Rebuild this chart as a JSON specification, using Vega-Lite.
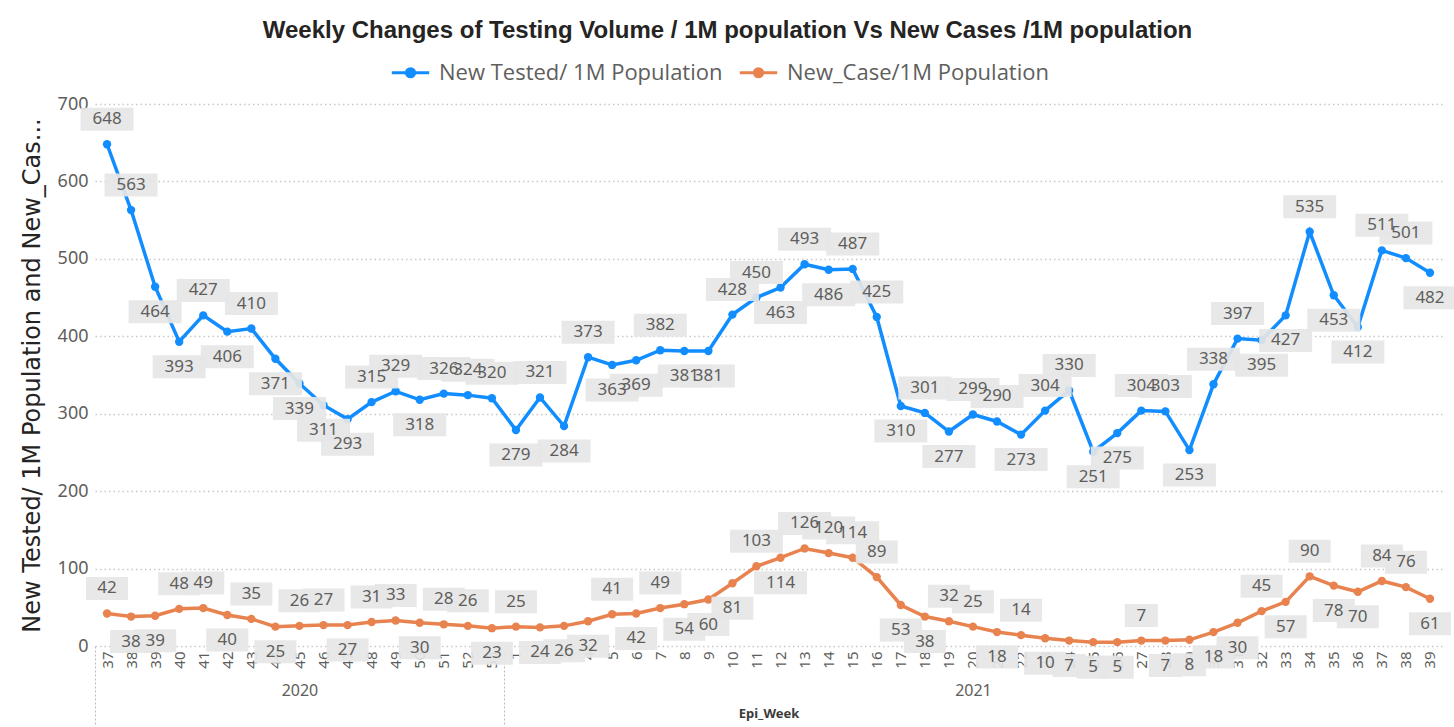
{
  "$schema": "https://vega.github.io/schema/vega-lite/v6.json",
  "autosize": {"type": "none"},
  "padding": {"left": 95, "top": 104, "right": 12, "bottom": 81},
  "width": 1347,
  "height": 542,
  "background": "white",
  "config": {"view": {"stroke": null}},
  "title": {
    "text": "Weekly Changes of Testing Volume / 1M population Vs New Cases /1M population",
    "font": "Liberation Sans",
    "fontSize": 24,
    "fontWeight": "bold",
    "color": "#252423",
    "anchor": "middle",
    "frame": "group",
    "dx": -41,
    "offset": 9
  },
  "data": {
    "values": [
      {"wk": "2020-37", "tested": 648, "cases": 42},
      {"wk": "2020-38", "tested": 563, "cases": 38},
      {"wk": "2020-39", "tested": 464, "cases": 39},
      {"wk": "2020-40", "tested": 393, "cases": 48},
      {"wk": "2020-41", "tested": 427, "cases": 49},
      {"wk": "2020-42", "tested": 406, "cases": 40},
      {"wk": "2020-43", "tested": 410, "cases": 35},
      {"wk": "2020-44", "tested": 371, "cases": 25},
      {"wk": "2020-45", "tested": 339, "cases": 26},
      {"wk": "2020-46", "tested": 311, "cases": 27},
      {"wk": "2020-47", "tested": 293, "cases": 27},
      {"wk": "2020-48", "tested": 315, "cases": 31},
      {"wk": "2020-49", "tested": 329, "cases": 33},
      {"wk": "2020-50", "tested": 318, "cases": 30},
      {"wk": "2020-51", "tested": 326, "cases": 28},
      {"wk": "2020-52", "tested": 324, "cases": 26},
      {"wk": "2020-53", "tested": 320, "cases": 23},
      {"wk": "2021-01", "tested": 279, "cases": 25},
      {"wk": "2021-02", "tested": 321, "cases": 24},
      {"wk": "2021-03", "tested": 284, "cases": 26},
      {"wk": "2021-04", "tested": 373, "cases": 32},
      {"wk": "2021-05", "tested": 363, "cases": 41},
      {"wk": "2021-06", "tested": 369, "cases": 42},
      {"wk": "2021-07", "tested": 382, "cases": 49},
      {"wk": "2021-08", "tested": 381, "cases": 54},
      {"wk": "2021-09", "tested": 381, "cases": 60},
      {"wk": "2021-10", "tested": 428, "cases": 81},
      {"wk": "2021-11", "tested": 450, "cases": 103},
      {"wk": "2021-12", "tested": 463, "cases": 114},
      {"wk": "2021-13", "tested": 493, "cases": 126},
      {"wk": "2021-14", "tested": 486, "cases": 120},
      {"wk": "2021-15", "tested": 487, "cases": 114},
      {"wk": "2021-16", "tested": 425, "cases": 89},
      {"wk": "2021-17", "tested": 310, "cases": 53},
      {"wk": "2021-18", "tested": 301, "cases": 38},
      {"wk": "2021-19", "tested": 277, "cases": 32},
      {"wk": "2021-20", "tested": 299, "cases": 25},
      {"wk": "2021-21", "tested": 290, "cases": 18},
      {"wk": "2021-22", "tested": 273, "cases": 14},
      {"wk": "2021-23", "tested": 304, "cases": 10},
      {"wk": "2021-24", "tested": 330, "cases": 7},
      {"wk": "2021-25", "tested": 251, "cases": 5},
      {"wk": "2021-26", "tested": 275, "cases": 5},
      {"wk": "2021-27", "tested": 304, "cases": 7},
      {"wk": "2021-28", "tested": 303, "cases": 7},
      {"wk": "2021-29", "tested": 253, "cases": 8},
      {"wk": "2021-30", "tested": 338, "cases": 18},
      {"wk": "2021-31", "tested": 397, "cases": 30},
      {"wk": "2021-32", "tested": 395, "cases": 45},
      {"wk": "2021-33", "tested": 427, "cases": 57},
      {"wk": "2021-34", "tested": 535, "cases": 90},
      {"wk": "2021-35", "tested": 453, "cases": 78},
      {"wk": "2021-36", "tested": 412, "cases": 70},
      {"wk": "2021-37", "tested": 511, "cases": 84},
      {"wk": "2021-38", "tested": 501, "cases": 76},
      {"wk": "2021-39", "tested": 482, "cases": 61}
    ]
  },
  "transform": [
    {"fold": ["tested", "cases"], "as": ["series", "value"]},
    {
      "window": [
        {"op": "lag", "field": "value", "as": "prev"},
        {"op": "lead", "field": "value", "as": "next"}
      ],
      "groupby": ["series"],
      "sort": [{"field": "wk", "order": "ascending"}]
    }
  ],
  "encoding": {
    "x": {"field": "wk", "type": "ordinal", "sort": "ascending", "scale": {"type": "point", "padding": 0.5}, "axis": null},
    "y": {
      "field": "value",
      "type": "quantitative",
      "scale": {"domain": [0, 700], "nice": false},
      "axis": {
        "values": [0, 100, 200, 300, 400, 500, 600, 700],
        "title": "New Tested/ 1M Population and New_Cas...",
        "titleFont": "DejaVu Sans",
        "titleFontSize": 24,
        "titleFontWeight": "normal",
        "titleColor": "#252423",
        "titlePadding": 13,
        "labelFont": "Noto Sans",
        "labelFontSize": 18,
        "labelColor": "#605E5C",
        "labelPadding": 7,
        "domain": false,
        "ticks": false,
        "grid": true,
        "gridDash": [1.5, 3],
        "gridColor": "#c8c8c8",
        "gridWidth": 1.5
      }
    }
  },
  "layer": [
    {
      "mark": {"type": "line", "strokeWidth": 3.5},
      "encoding": {
        "x": {
          "field": "wk", "type": "ordinal", "sort": "ascending", "scale": {"type": "point", "padding": 0.5},
          "axis": {
            "orient": "bottom",
            "title": null,
            "labelExpr": "'' + toNumber(split(datum.value, '-')[1])",
            "labelAngle": -90,
            "labelFont": "Noto Sans",
            "labelFontSize": 15,
            "labelColor": "#605E5C",
            "labelPadding": 5,
            "ticks": false,
            "domain": false,
            "grid": false,
            "labelOverlap": false
          }
        },
        "color": {
          "field": "series",
          "type": "nominal",
          "scale": {"domain": ["tested", "cases"], "range": ["#118DFF", "#E8834F"]},
          "legend": {
            "orient": "none",
            "legendX": 295,
            "legendY": -52,
            "direction": "horizontal",
            "title": null,
            "labelExpr": "datum.value == 'tested' ? 'New Tested/ 1M Population' : 'New_Case/1M Population'",
            "labelFont": "Open Sans",
            "labelFontSize": 22,
            "labelColor": "#605E5C",
            "labelLimit": 400,
            "symbolType": "M-1,0H1M-0.22,0a0.22,0.22 0 1,0 0.44,0a0.22,0.22 0 1,0 -0.44,0",
            "symbolSize": 1400,
            "symbolStrokeWidth": 3,
            "labelOffset": 8,
            "columnPadding": 10,
            "padding": 0,
            "encode": {"symbols": {"update": {"fill": {"scale": "color", "field": "value"}, "stroke": {"scale": "color", "field": "value"}}}}
          }
        }
      }
    },
    {
      "mark": {"type": "point", "filled": true, "size": 70, "opacity": 1},
      "encoding": {
        "x": {
          "field": "wk", "type": "ordinal", "sort": "ascending", "scale": {"type": "point", "padding": 0.5},
          "axis": {
            "orient": "bottom",
            "title": "Epi_Week",
            "titleFont": "Noto Sans",
            "titleFontSize": 13,
            "titleFontWeight": "bold",
            "titleColor": "#3b3a39",
            "titlePadding": 9,
            "labelExpr": "datum.value == '2020-45' ? '2020' : (datum.value == '2021-20' ? '2021' : '')",
            "labelAngle": 0,
            "labelPadding": 36,
            "labelFont": "Noto Sans",
            "labelFontSize": 16,
            "labelColor": "#605E5C",
            "ticks": false,
            "domain": false,
            "grid": false,
            "labelOverlap": false,
            "labelBound": false
          }
        },
        "color": {"field": "series", "type": "nominal", "legend": null}
      }
    },
    {
      "transform": [{"filter": "datum.value >= ((datum.prev == null ? datum.next : datum.prev) + (datum.next == null ? datum.prev : datum.next)) / 2"}],
      "mark": {"type": "point", "filled": true, "fill": "#e6e6e6", "opacity": 0.92, "size": 2116, "yOffset": -25, "strokeWidth": 0},
      "encoding": {
        "x": {
          "field": "wk", "type": "ordinal", "sort": "ascending", "scale": {"type": "point", "padding": 0.5},
          "axis": {
            "orient": "bottom",
            "title": null,
            "labels": false,
            "domain": false,
            "grid": false,
            "ticks": true,
            "tickOffset": -12,
            "tickSize": 78,
            "tickColor": "#bbbbbb",
            "tickDash": [2, 2],
            "tickWidth": 1,
            "tickOpacity": {"condition": {"test": "datum.value == '2020-37' || datum.value == '2021-01'", "value": 1}, "value": 0}
          }
        },
        "shape": {
          "condition": [
            {"test": "datum.value >= 100", "value": "M-1.152,-0.5H1.152V0.5H-1.152Z"},
            {"test": "datum.value >= 10", "value": "M-0.913,-0.5H0.913V0.5H-0.913Z"}
          ],
          "value": "M-0.717,-0.5H0.717V0.5H-0.717Z"
        }
      }
    },
    {
      "transform": [{"filter": "datum.value < ((datum.prev == null ? datum.next : datum.prev) + (datum.next == null ? datum.prev : datum.next)) / 2"}],
      "mark": {"type": "point", "filled": true, "fill": "#e6e6e6", "opacity": 0.92, "size": 2116, "yOffset": 25, "strokeWidth": 0},
      "encoding": {
        "shape": {
          "condition": [
            {"test": "datum.value >= 100", "value": "M-1.152,-0.5H1.152V0.5H-1.152Z"},
            {"test": "datum.value >= 10", "value": "M-0.913,-0.5H0.913V0.5H-0.913Z"}
          ],
          "value": "M-0.717,-0.5H0.717V0.5H-0.717Z"
        }
      }
    },
    {
      "transform": [{"filter": "datum.value >= ((datum.prev == null ? datum.next : datum.prev) + (datum.next == null ? datum.prev : datum.next)) / 2"}],
      "mark": {"type": "text", "font": "Noto Sans", "fontSize": 17, "fill": "#605E5C", "yOffset": -25, "baseline": "middle"},
      "encoding": {"text": {"field": "value", "type": "quantitative"}}
    },
    {
      "transform": [{"filter": "datum.value < ((datum.prev == null ? datum.next : datum.prev) + (datum.next == null ? datum.prev : datum.next)) / 2"}],
      "mark": {"type": "text", "font": "Noto Sans", "fontSize": 17, "fill": "#605E5C", "yOffset": 25, "baseline": "middle"},
      "encoding": {"text": {"field": "value", "type": "quantitative"}}
    }
  ],
  "resolve": {"axis": {"x": "independent"}}
}
